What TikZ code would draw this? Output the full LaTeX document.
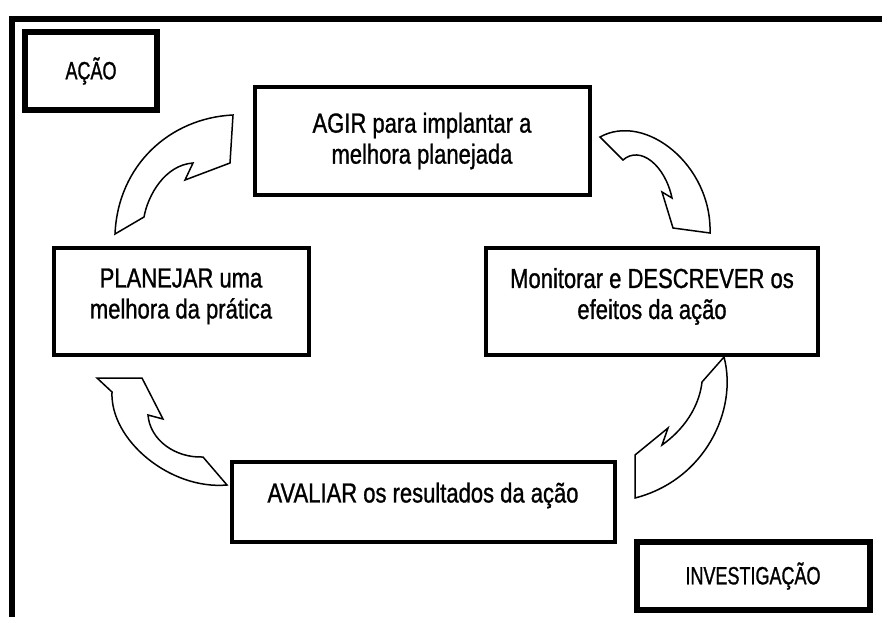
\documentclass[tikz,border=0pt]{standalone}
\usepackage{fontspec}
\setmainfont{Liberation Sans}[FakeStretch=0.8, FakeBold=1]
\newfontfamily\narrowfont{Liberation Sans}[FakeStretch=0.72, FakeBold=1]
\usepackage{tikz}

\tikzset{
  box/.style={draw, line width=4pt, align=center, font=\fontsize{27.5}{31}\selectfont},
  tag/.style={draw, line width=6pt, font=\narrowfont\fontsize{25}{28}\selectfont},
  bent/.style={draw, line width=1.5pt, fill=white, line join=miter}
}

\begin{document}
\begin{tikzpicture}[x=1pt, y=-1pt]
            \useasboundingbox (0,0) rectangle (882,616);
            % frame, cut at the right and bottom
            \draw[line width=6pt] (890,19) -| (11.5,625);
            \node[tag, minimum width=132, minimum height=78] (acao) at (91,71) {AÇÃO};
            \node[tag, minimum width=233, minimum height=68] (investigacao) at (753,576) {INVESTIGAÇÃO};
            \node[box, minimum width=335, minimum height=108] (agir) at (422,141) {AGIR para implantar a\\melhora planejada};
            \node[box, minimum width=332, minimum height=107, text depth=15pt] (monitorar) at (652,301) {Monitorar e DESCREVER os\\efeitos da ação};
            \node[box, minimum width=255, minimum height=107, text depth=15pt] (planejar) at (181,301) {PLANEJAR uma\\melhora da prática};
            \node[box, minimum width=383, minimum height=80, text depth=19pt] (avaliar) at (423,502) {AVALIAR os resultados da ação};
            % bent arrows, clockwise
            \draw[bent] (115,234) -- (144,217) .. controls (148,195) and (165,165) .. (193,163) -- (185,180) -- (230,163) -- (233,115) .. controls (170,118) and (118,165) .. (115,234) -- cycle;
            \draw[bent] (600,137) .. controls (645,112) and (712,165) .. (710,233) -- (673,228) -- (662,192) -- (672,198) .. controls (665,165) and (640,145) .. (623,160) -- cycle;
            \draw[bent] (724,357) .. controls (738,410) and (705,480) .. (635,498) -- (635,455) -- (668,428) -- (662,445) .. controls (690,425) and (700,400) .. (702,382) -- cycle;
            \draw[bent] (227,485) .. controls (170,490) and (110,440) .. (112,392) -- (97,378) -- (142,378) -- (163,419) -- (148,415) .. controls (150,440) and (175,458) .. (203,457) -- cycle;
        \end{tikzpicture}
\end{document}
